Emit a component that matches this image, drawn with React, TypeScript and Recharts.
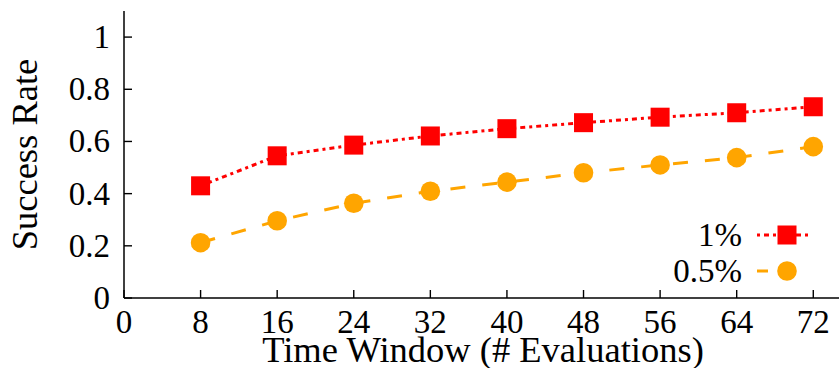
import { LineChart, Line, XAxis, YAxis, Legend, Label } from "recharts";

// Valores (ventana de tiempo en # evaluaciones).
const VENTANAS = [8, 16, 24, 32, 40, 48, 56, 64, 72];
const TASA_1 = [0.43, 0.545, 0.586, 0.621, 0.649, 0.672, 0.693, 0.71, 0.733];
const TASA_05 = [0.212, 0.296, 0.363, 0.409, 0.444, 0.48, 0.51, 0.538, 0.58];

const TICKS_X = [0, 8, 16, 24, 32, 40, 48, 56, 64, 72];
const TICKS_Y = [0, 0.2, 0.4, 0.6, 0.8, 1];

const SERIES = ["1%", "0.5%"];
const ROJO = "#ff0000";
const NARANJA = "#ffa500";

const FUENTE = '"Liberation Serif", "Times New Roman", serif';
const TAM = 33;
const TAM_TITULO = 36.5;
const LARGO_TICK = 8;

const datos = VENTANAS.map((v, i) => ({ ventana: v, uno: TASA_1[i], medio: TASA_05[i] }));

// Ticks hacia adentro, como en gnuplot: dibujamos línea y texto a mano.
function TickAbajo({ x, y, payload }: any) {
  return (
    <g>
      <line x1={x} x2={x} y1={y} y2={y - LARGO_TICK} stroke="#000" strokeWidth={1.4} />
      <text x={x} y={y + 35} textAnchor="middle" fontFamily={FUENTE} fontSize={TAM} fill="#000">
        {payload.value}
      </text>
    </g>
  );
}

function TickArriba({ x, y }: any) {
  return <line x1={x} x2={x} y1={y} y2={y + LARGO_TICK} stroke="#000" strokeWidth={1.4} />;
}

function TickIzq({ x, y, payload }: any) {
  return (
    <g>
      <line x1={x} x2={x + LARGO_TICK} y1={y} y2={y} stroke="#000" strokeWidth={1.4} />
      <text x={x - 14} y={y + 11} textAnchor="end" fontFamily={FUENTE} fontSize={TAM} fill="#000">
        {String(payload.value)}
      </text>
    </g>
  );
}

function TickDer({ x, y }: any) {
  return <line x1={x} x2={x - LARGO_TICK} y1={y} y2={y} stroke="#000" strokeWidth={1.4} />;
}

function Cuadrado({ cx, cy, index }: any) {
  return <rect key={`c${index}`} x={cx - 9.5} y={cy - 9.5} width={19} height={19} fill={ROJO} />;
}

function Circulo({ cx, cy, index }: any) {
  return <circle key={`o${index}`} cx={cx} cy={cy} r={9.8} fill={NARANJA} />;
}

function Leyenda() {
  return (
    <svg width={280} height={76} style={{ display: "block" }}>
      <text x={182} y={31} textAnchor="end" fontFamily={FUENTE} fontSize={TAM} fill="#000">
        {SERIES[0]}
      </text>
      <line x1={197} x2={252} y1={20} y2={20} stroke={ROJO} strokeWidth={3} strokeDasharray="3 4 5 4" />
      <rect x={227 - 9.5} y={20 - 9.5} width={19} height={19} fill={ROJO} />
      <text x={182} y={67} textAnchor="end" fontFamily={FUENTE} fontSize={TAM} fill="#000">
        {SERIES[1]}
      </text>
      <line x1={197} x2={245} y1={56} y2={56} stroke={NARANJA} strokeWidth={3} strokeDasharray="11 14" />
      <circle cx={227} cy={56} r={9.8} fill={NARANJA} />
    </svg>
  );
}

export default function App() {
  return (
    <div style={{ position: "absolute", left: 0, top: 0, width: 839, height: 368, overflow: "hidden", background: "#fff" }}>
      <LineChart width={850} height={368} data={datos} margin={{ top: 11, right: 8, bottom: 0, left: 0 }}>
        <XAxis
          xAxisId="abajo"
          dataKey="ventana"
          type="number"
          domain={[0, 75]}
          ticks={TICKS_X}
          interval={0}
          height={70}
          tickSize={0}
          tickMargin={0}
          tickLine={false}
          axisLine={{ stroke: "#000", strokeWidth: 1.5 }}
          tick={<TickAbajo />}
        >
          <Label
            content={({ viewBox }: any) => (
              <text
                x={viewBox.x + viewBox.width / 2}
                y={viewBox.y + 64}
                textAnchor="middle"
                fontFamily={FUENTE}
                fontSize={TAM_TITULO}
                fill="#000"
              >
                Time Window (# Evaluations)
              </text>
            )}
          />
        </XAxis>
        <XAxis
          xAxisId="arriba"
          dataKey="ventana"
          orientation="top"
          type="number"
          domain={[0, 75]}
          ticks={TICKS_X}
          interval={0}
          height={0}
          tickSize={0}
          tickMargin={0}
          tickLine={false}
          axisLine={{ stroke: "#000", strokeWidth: 1.5 }}
          tick={<TickArriba />}
        />
        <YAxis
          yAxisId="izq"
          type="number"
          domain={[0, 1.1]}
          ticks={TICKS_Y}
          interval={0}
          width={124}
          tickSize={0}
          tickMargin={0}
          tickLine={false}
          axisLine={{ stroke: "#000", strokeWidth: 1.5 }}
          tick={<TickIzq />}
        >
          <Label
            content={({ viewBox }: any) => {
              const cx = viewBox.x + 37;
              const cy = viewBox.y + viewBox.height / 2;
              return (
                <text
                  x={cx}
                  y={cy}
                  transform={`rotate(-90 ${cx} ${cy})`}
                  textAnchor="middle"
                  fontFamily={FUENTE}
                  fontSize={TAM_TITULO}
                  fill="#000"
                >
                  Success Rate
                </text>
              );
            }}
          />
        </YAxis>
        <YAxis
          yAxisId="der"
          orientation="right"
          type="number"
          domain={[0, 1.1]}
          ticks={TICKS_Y}
          interval={0}
          width={0}
          tickSize={0}
          tickMargin={0}
          tickLine={false}
          axisLine={{ stroke: "#000", strokeWidth: 1.5 }}
          tick={<TickDer />}
        />
        <Legend
          layout="vertical"
          align="center"
          verticalAlign="middle"
          wrapperStyle={{ position: "absolute", left: 560, top: 215, width: 280, height: 76 }}
          content={() => <Leyenda />}
        />
        <Line
          xAxisId="abajo"
          yAxisId="izq"
          name={SERIES[0]}
          dataKey="uno"
          type="linear"
          stroke={ROJO}
          strokeWidth={3}
          strokeDasharray="3 4 5 4"
          dot={Cuadrado}
          activeDot={false}
          isAnimationActive={false}
        />
        <Line
          xAxisId="abajo"
          yAxisId="izq"
          name={SERIES[1]}
          dataKey="medio"
          type="linear"
          stroke={NARANJA}
          strokeWidth={3}
          strokeDasharray="15 17"
          dot={Circulo}
          activeDot={false}
          isAnimationActive={false}
        />
      </LineChart>
    </div>
  );
}
